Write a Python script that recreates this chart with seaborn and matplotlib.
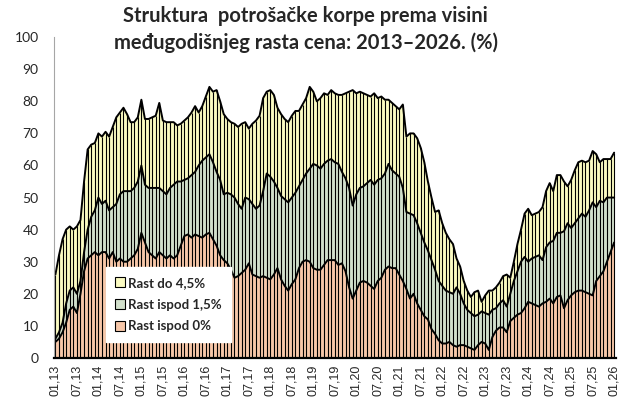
import matplotlib
matplotlib.use("Agg")
import matplotlib.pyplot as plt
from matplotlib.patches import Patch
import seaborn as sns
import pandas as pd

# =========================
# DATA (monthly, 01.2013 - 01.2026, % of basket)
# =========================
rast_do_45 = [
    26, 32, 37, 40, 41, 40, 41, 43, 55, 65, 66.5, 67,
    70, 69, 70.5, 69, 72, 75, 76.5, 78, 76, 73.5, 73.5, 75,
    80.5, 74.5, 74.5, 75, 75.5, 79.5, 74, 73.5, 73.5, 73.5, 72.5, 73,
    74, 75, 76.5, 78.5, 76.5, 78.5, 81.5, 84.5, 83, 83.5, 80, 76,
    74.5, 73.5, 73, 72, 73, 73.5, 71.5, 73, 74, 75.5, 81, 83,
    83.5, 82, 78, 76, 74.5, 73.5, 75.5, 77, 77, 79, 81, 84.5,
    83, 80, 81, 82.5, 82, 83.5, 82.5, 82, 82, 82.5, 83, 83.5,
    82.5, 83, 82.5, 82, 81.5, 82.5, 81, 81.5, 80.5, 80.5, 79.5, 78.5,
    77.5, 79, 69, 70, 70, 68.5, 65.5, 61, 55, 50, 45.5, 46,
    42, 39, 37, 35.5, 31, 28.5, 24, 21, 19, 20.5, 21, 17.5,
    19.5, 21, 21, 22, 23.5, 25.5, 26, 25, 30, 35.5, 40, 45,
    46.5, 44.5, 45, 45.5, 47, 52, 54.5, 52, 57, 57, 55, 53.5,
    55.5, 58.5, 61, 61.5, 61, 61.5, 64.5, 63.5, 61, 62, 62, 62,
    64,
]
rast_ispod_15 = [
    6, 8, 11, 17, 21, 22, 20, 24, 33, 40, 44, 46,
    50, 48, 49, 46, 47, 48, 51, 52, 52, 52, 53, 55,
    60, 54, 53, 53, 53, 53, 52, 51, 53, 54, 55, 55,
    55.5, 56, 57, 58, 60, 61.5, 62.5, 63.5, 61, 58, 55.5, 51,
    51.5, 51, 50, 48, 46.5, 50, 49.5, 48, 46.5, 47.5, 52, 57.5,
    56.5, 55, 53, 50.5, 49.5, 48.5, 50, 51.5, 53.5, 55.5, 57.5, 59,
    60.5, 60, 59, 60.5, 61.5, 62, 61, 60.5, 58, 56, 53, 47.5,
    51, 53, 53.5, 54.5, 55.5, 54, 55.5, 56, 57.5, 60.5, 58.5, 57.5,
    56.5, 53, 45.5, 45, 44.5, 42, 39, 36, 33.5, 30.5, 27.5, 24,
    22.5, 21, 20.5, 20, 22, 20, 17, 15, 14, 13, 13.5, 14.5,
    14, 13.5, 15, 15.5, 17, 18, 16, 20, 24, 27, 30, 31.5,
    30, 31, 31.5, 32, 30.5, 34.5, 36, 36.5, 39, 39, 39.5, 42,
    40.5, 42, 43.5, 45, 44, 46, 48.5, 47, 49, 48.5, 50, 50,
    50,
]
rast_ispod_0 = [
    5, 6, 8, 11, 15, 16, 14, 20, 27, 31, 32, 33,
    32, 33, 33, 31, 33, 30, 31, 30, 30, 31, 32, 34,
    39, 36, 33, 32, 31, 33, 32, 31, 32, 31, 32, 35,
    38, 38.5, 37.5, 38.5, 38, 37.5, 38.5, 39, 37, 35, 32, 30.5,
    29.5, 27.5, 25, 25.5, 26.5, 27.5, 29.5, 26, 25.5, 25, 25.5, 25,
    24.5, 26, 28, 24.5, 22.5, 21, 23, 24.5, 28, 30, 30.5, 30,
    28, 27.5, 27.5, 29, 30.5, 30.5, 30.5, 29, 29.5, 27, 22, 18.5,
    21, 23.5, 24, 23.5, 22.5, 21.5, 24, 25, 27.5, 28.5, 28, 28,
    26, 24, 21.5, 18.5, 20, 17, 15, 13, 12, 9, 7.5, 5.5,
    4.5, 4.5, 5, 4, 3.5, 4, 4, 3.5, 3, 2.5, 4, 5,
    4.5, 2.5, 6.5, 8.5, 9.5, 9.5, 8, 11.5, 12.5, 13.5, 14, 15.5,
    17.5, 17, 16.5, 16, 17, 17.5, 18.5, 17, 19, 19.5, 15.5, 18,
    19.5, 20.5, 21, 21, 20.5, 20, 19.5, 24, 25.5, 27, 30, 33,
    36,
]

n = len(rast_do_45)
month_labels = [f"{i % 12 + 1:02d},{13 + i // 12}" for i in range(n)]

df = pd.DataFrame({
    "t": range(n),
    "do_45": rast_do_45,
    "ispod_15": rast_ispod_15,
    "ispod_0": rast_ispod_0,
})

series = [
    ("do_45", "Rast do 4,5%", "#FBFBC2"),
    ("ispod_15", "Rast ispod 1,5%", "#D2E0CC"),
    ("ispod_0", "Rast ispod 0%", "#F7C7A9"),
]

# =========================
# PLOT
# =========================
sns.set_style("white")
plt.rcParams["font.family"] = ["Lato", "DejaVu Sans"]

fig = plt.figure(figsize=(6.24, 4.04), dpi=100)
ax = fig.add_axes([0.0865, 0.114, 0.9, 0.794])

# filled areas, largest share first
for col, label, color in series:
    ax.fill_between(df["t"], 0, df[col], color=color, lw=0)

# vertical stripe pattern, one per month
ax.vlines(df["t"], 0, df["do_45"], color="black", lw=0.8)

# outlines
for col, label, color in series:
    sns.lineplot(data=df, x="t", y=col, color="black", lw=1.4, ax=ax)

ax.set_xlim(-0.4, n - 0.6)
ax.set_ylim(0, 100)
ax.set_yticks(range(0, 101, 10))
ax.set_xticks(range(0, n, 6))
ax.set_xticklabels(month_labels[::6], rotation=90, family=["Liberation Sans"])
ax.set_xlabel("")
ax.set_ylabel("")

sns.despine(ax=ax)
ax.spines["left"].set_color("#A6A6A6")
ax.spines["bottom"].set_color("black")
ax.spines["bottom"].set_linewidth(1.6)
ax.tick_params(axis="y", length=5, color="#A6A6A6", labelsize=10, pad=6)
ax.tick_params(axis="x", length=0, labelsize=9, pad=5)

handles = [Patch(facecolor=c, edgecolor="black", lw=0.8, label=l) for _, l, c in series]
ax.legend(handles=handles, loc="lower left", bbox_to_anchor=(0.08, 0.03),
          frameon=True, fancybox=False, edgecolor="white", framealpha=1,
          prop={"weight": "bold", "size": 9.5}, handlelength=0.75, handleheight=0.75,
          handletextpad=0.25, labelspacing=0.75, borderpad=0.7)

fig.text(0.49, 0.985, "Struktura  potrošačke korpe prema visini\nmeđugodišnjeg rasta cena: 2013–2026. (%)",
         ha="center", va="top", fontsize=14.5, fontweight="bold", linespacing=1.4)

fig.savefig("out.png", dpi=100)
plt.close()
